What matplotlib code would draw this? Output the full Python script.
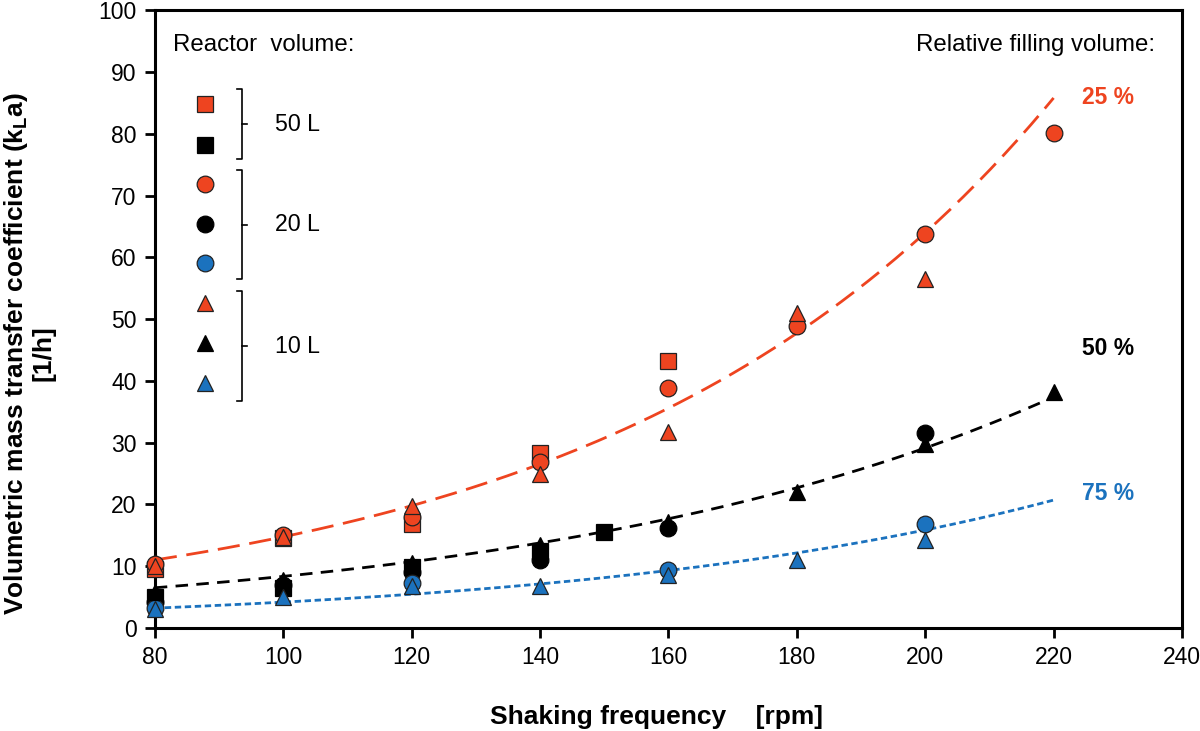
import numpy as np
import matplotlib.pyplot as plt

plt.rcParams["font.family"] = ["Liberation Sans", "DejaVu Sans"]

RED = "#EE4420"
BLACK = "#000000"
BLUE = "#1B72BE"

# (reactor volume, filling volume) -> rpm, kLa
red_sq_x = [80, 100, 120, 140, 160]
red_sq_y = [9.5, 14.5, 16.8, 28.3, 43.2]
blk_sq_x = [80, 100, 120, 140, 150]
blk_sq_y = [5.0, 6.5, 9.8, 12.5, 15.5]

red_ci_x = [80, 100, 120, 140, 160, 180, 200, 220]
red_ci_y = [10.3, 15.1, 18.0, 26.8, 38.9, 48.8, 63.8, 80.2]
blk_ci_x = [80, 100, 120, 140, 160, 200]
blk_ci_y = [4.2, 7.0, 9.0, 11.0, 16.2, 31.5]
blu_ci_x = [80, 120, 160, 200]
blu_ci_y = [3.2, 7.2, 9.3, 16.8]

red_tr_x = [80, 100, 120, 140, 160, 180, 200]
red_tr_y = [10.0, 14.8, 19.8, 25.0, 31.8, 51.0, 56.5]
blk_tr_x = [80, 100, 120, 140, 160, 180, 200, 220]
blk_tr_y = [5.8, 7.8, 10.5, 13.5, 17.2, 22.0, 29.8, 38.2]
blu_tr_x = [80, 100, 120, 140, 160, 180, 200]
blu_tr_y = [3.0, 5.0, 6.8, 6.8, 8.5, 11.0, 14.2]

# exponential trend lines: value read at 80 rpm and at 220 rpm
trend_x = [80, 220]
trend_red = [11.0, 85.8]
trend_black = [6.5, 37.4]
trend_blue = [3.2, 20.7]

series = [
    (red_sq_x, red_sq_y, "s", RED),
    (blk_sq_x, blk_sq_y, "s", BLACK),
    (red_ci_x, red_ci_y, "o", RED),
    (blk_ci_x, blk_ci_y, "o", BLACK),
    (blu_ci_x, blu_ci_y, "o", BLUE),
    (red_tr_x, red_tr_y, "^", RED),
    (blk_tr_x, blk_tr_y, "^", BLACK),
    (blu_tr_x, blu_tr_y, "^", BLUE),
]


def exp_curve(ends, n=200):
    # exponential between the two read values (straight line on a log scale)
    xx = np.linspace(trend_x[0], trend_x[1], n)
    return xx, np.geomspace(ends[0], ends[1], n)


fig = plt.figure(figsize=(12, 7.31), dpi=100)
ax = fig.add_axes([0.129, 0.141, 0.856, 0.845])

xx, yy = exp_curve(trend_red)
ax.plot(xx, yy, color=RED, lw=2, dashes=(8, 3.5), zorder=2)
xx, yy = exp_curve(trend_black)
ax.plot(xx, yy, color=BLACK, lw=2, dashes=(4.5, 3), zorder=2)
xx, yy = exp_curve(trend_blue)
ax.plot(xx, yy, color=BLUE, lw=2, dashes=(2.3, 1.3), zorder=2)


def marker_style(m, c):
    return dict(ls="none", marker=m, ms=11 if m == "s" else 12, color=c,
                mec="#222222" if c != BLACK else BLACK, mew=0.9)


for sx, sy, m, c in series:
    ax.plot(sx, sy, zorder=3, clip_on=False, **marker_style(m, c))

ax.set_xlim(80, 240)
ax.set_ylim(0, 100)
ax.set_xticks(np.arange(80, 241, 20))
ax.set_yticks(np.arange(0, 101, 10))
ax.tick_params(labelsize=16.5, width=2, length=7, direction="out", pad=6)
for sp in ax.spines.values():
    sp.set_linewidth(2.2)

ax.set_xlabel("Shaking frequency    [rpm]", fontsize=19, fontweight="bold")
ax.xaxis.set_label_coords(0.488, -0.125)
ax.set_ylabel("Volumetric mass transfer coefficient (k$_\\mathregular{L}$a)\n[1/h]",
              fontsize=19, fontweight="bold", linespacing=1.05)
ax.yaxis.set_label_coords(-0.097, 0.445)

tr = ax.transAxes
ax.text(0.0175, 0.943, "Reactor  volume:", transform=tr, fontsize=17.3, va="center")
ax.text(0.974, 0.943, "Relative filling volume:", transform=tr, fontsize=17.3,
        va="center", ha="right")
ax.text(0.903, 0.859, "25 %", transform=tr, fontsize=16.5, fontweight="bold", color=RED, va="center")
ax.text(0.903, 0.453, "50 %", transform=tr, fontsize=16.5, fontweight="bold", color=BLACK, va="center")
ax.text(0.903, 0.218, "75 %", transform=tr, fontsize=16.5, fontweight="bold", color=BLUE, va="center")

# legend markers with brackets
leg_y = [0.848, 0.782, 0.718, 0.654, 0.591, 0.526, 0.461, 0.396]
for (sx, sy, m, c), y in zip(series, leg_y):
    ax.plot([0.0487], [y], transform=tr, **marker_style(m, c))

brackets = [(0.872, 0.759, "50 L"), (0.741, 0.565, "20 L"), (0.545, 0.367, "10 L")]
for top, bot, label in brackets:
    x0, x1, x2 = 0.080, 0.085, 0.090
    mid = (top + bot) / 2
    ax.plot([x0, x1, x1, x0], [top, top, bot, bot], transform=tr, color="black", lw=1.2)
    ax.plot([x1, x2], [mid, mid], transform=tr, color="black", lw=1.2)
    ax.text(0.117, mid, label, transform=tr, fontsize=16.7, va="center")

fig.savefig("out.png", dpi=100)
